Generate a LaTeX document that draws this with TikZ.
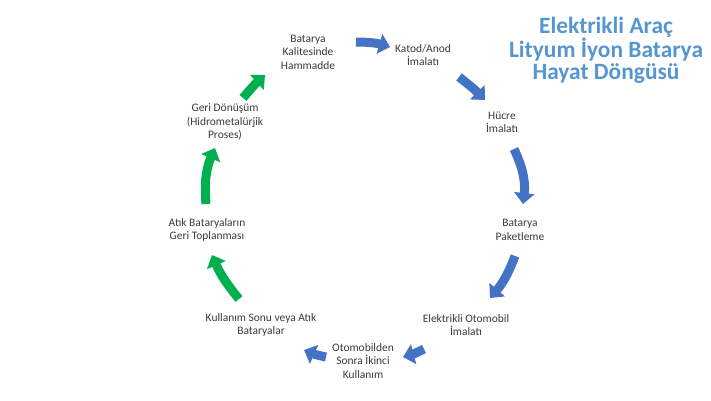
\documentclass[tikz,border=0pt]{standalone}
\usepackage{fontspec}
\setmainfont{Carlito}
\usetikzlibrary{arrows.meta}
\definecolor{arblue}{HTML}{4472C4}
\definecolor{argreen}{HTML}{00B050}
\definecolor{titleblue}{HTML}{5596D0}
\definecolor{txt}{HTML}{3A3A3A}
\tikzset{
  lbl/.style={align=center, text=txt, inner sep=0pt, font=\fontsize{11.5}{13.5}\selectfont},
  blk/.style={line width=9bp, -{Triangle[width=20bp,length=11bp]}},
  bluearr/.style={blk, draw=arblue, color=arblue},
  greenarr/.style={blk, draw=argreen, color=argreen},
  ttl/.style={align=center, inner sep=0pt, font=\bfseries\fontsize{23.5}{22}\selectfont}
}
\begin{document}
\begin{tikzpicture}[x=1bp,y=-1bp]
\useasboundingbox (0,0) rectangle (711,400);
% labels
\node[lbl] (n1) at (308,52) {Batarya\\Kalitesinde\\Hammadde};
\node[lbl] (n2) at (423,55) {Katod/Anod\\İmalatı};
\node[lbl] (n3) at (502,122) {Hücre\\İmalatı};
\node[lbl] (n4) at (520,230) {Batarya\\Paketleme};
\node[lbl] (n5) at (466,325) {Elektrikli Otomobil\\İmalatı};
\node[lbl] (n6) at (363,361) {Otomobilden\\Sonra İkinci\\Kullanım};
\node[lbl] (n7) at (261,325) {Kullanım Sonu veya Atık\\Bataryalar};
\node[lbl] (n8) at (207,230) {Atık Bataryaların\\Geri Toplanması};
\node[lbl] (n9) at (225,122) {Geri Dönüşüm\\(Hidrometalürjik\\Proses)};
% title
\node[ttl, text=titleblue] (title) at (606,50) {Elektrikli Araç\\Lityum İyon Batarya\\Hayat Döngüsü};
% arrow end points
\coordinate (a1s) at (356,42); \coordinate (a1e) at (390,47);
\coordinate (a2s) at (459,77); \coordinate (a2e) at (485,100);
\coordinate (a3s) at (514,149); \coordinate (a3e) at (523,204);
\coordinate (a4s) at (515,256); \coordinate (a4e) at (490,298);
\coordinate (a5s) at (424,349); \coordinate (a5e) at (403,357);
\coordinate (a6s) at (326,357); \coordinate (a6e) at (304,350);
\coordinate (a7s) at (239,299); \coordinate (a7e) at (212,255);
\coordinate (a8s) at (206,204); \coordinate (a8e) at (215,148);
\coordinate (a9s) at (243,98); \coordinate (a9e) at (265,75);
% arrows
\draw[bluearr] (a1s) to[bend left=8] (a1e);
\draw[bluearr] (a2s) to[bend left=4] (a2e);
\draw[bluearr] (a3s) to[bend left=16] (a3e);
\draw[bluearr] (a4s) to[bend left=10] (a4e);
\draw[bluearr] (a5s) to[bend left=6] (a5e);
\draw[bluearr] (a6s) to[bend left=6] (a6e);
\draw[greenarr] (a7s) to[bend left=8] (a7e);
\draw[greenarr] (a8s) to[bend left=14] (a8e);
\draw[greenarr] (a9s) to[bend left=4] (a9e);
\end{tikzpicture}
\end{document}
